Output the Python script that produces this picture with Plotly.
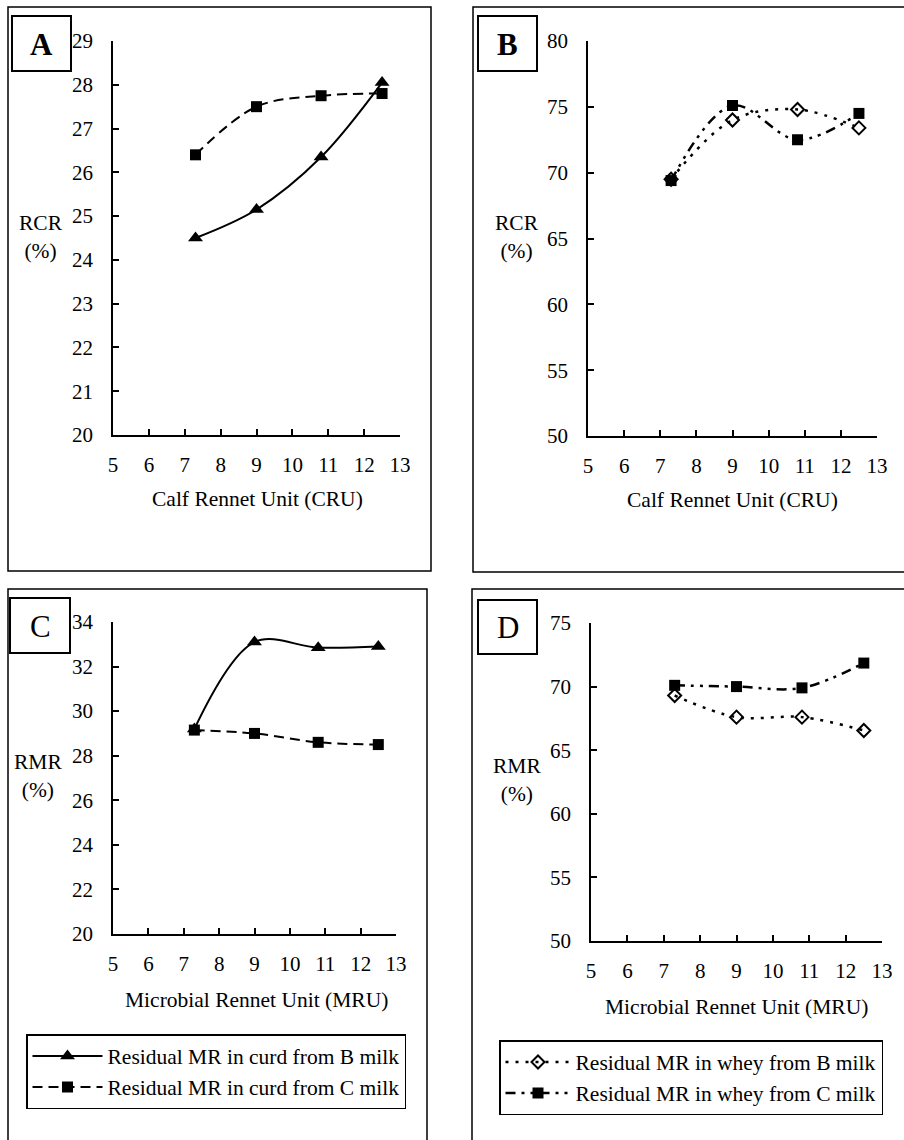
import plotly.graph_objects as go

W, H = 904, 1140

# ---- data ----
rennet_units = [7.3, 9.0, 10.8, 12.5]
rcr_curd_B = [24.5, 25.15, 26.35, 28.05]
rcr_curd_C = [26.4, 27.5, 27.75, 27.8]
rcr_whey_B = [69.5, 74.0, 74.8, 73.4]
rcr_whey_C = [69.4, 75.1, 72.5, 74.5]
rmr_curd_B = [29.2, 33.1, 32.85, 32.9]
rmr_curd_C = [29.15, 29.0, 28.6, 28.5]
rmr_whey_B = [69.3, 67.6, 67.6, 66.55]
rmr_whey_C = [70.1, 70.0, 69.9, 71.85]
x_ticks = [5, 6, 7, 8, 9, 10, 11, 12, 13]

name_curd_B = "Residual MR in curd from B milk"
name_curd_C = "Residual MR in curd from C milk"
name_whey_B = "Residual MR in whey from B milk"
name_whey_C = "Residual MR in whey from C milk"

FONT = "Liberation Serif, Times New Roman, serif"
FS = 21.5
TFS = 21

def px(x):
    return x / W

def py(y):
    return 1 - y / H

fig = go.Figure()

solid = dict(color="black", width=2, shape="spline", smoothing=1.0)
dashed = dict(color="black", width=2, shape="spline", smoothing=1.0, dash="10px,6px")
dotted = dict(color="black", width=2.5, shape="spline", smoothing=1.0, dash="3px,7px")
dashdot = dict(color="black", width=2.5, shape="spline", smoothing=1.0, dash="10px,6px,3px,6px,3px,6px")

tri = dict(symbol="triangle-up", size=13, color="black")
sq = dict(symbol="square", size=11, color="black")
dia = dict(symbol="diamond-open", size=10, color="black", line=dict(width=2, color="black"))

# Panel A
fig.add_trace(go.Scatter(x=rennet_units, y=rcr_curd_B, mode="lines+markers", line=solid, marker=tri,
                         xaxis="x", yaxis="y", showlegend=False, name=name_curd_B))
fig.add_trace(go.Scatter(x=rennet_units, y=rcr_curd_C, mode="lines+markers", line=dashed, marker=sq,
                         xaxis="x", yaxis="y", showlegend=False, name=name_curd_C))
# Panel B
fig.add_trace(go.Scatter(x=rennet_units, y=rcr_whey_B, mode="lines+markers", line=dotted, marker=dia,
                         xaxis="x2", yaxis="y2", showlegend=False, name=name_whey_B))
fig.add_trace(go.Scatter(x=rennet_units, y=rcr_whey_C, mode="lines+markers", line=dashdot, marker=sq,
                         xaxis="x2", yaxis="y2", showlegend=False, name=name_whey_C))
# Panel C
fig.add_trace(go.Scatter(x=rennet_units, y=rmr_curd_B, mode="lines+markers", line=solid, marker=tri,
                         xaxis="x3", yaxis="y3", legend="legend", name=name_curd_B))
fig.add_trace(go.Scatter(x=rennet_units, y=rmr_curd_C, mode="lines+markers", line=dashed, marker=sq,
                         xaxis="x3", yaxis="y3", legend="legend", name=name_curd_C))
# Panel D
fig.add_trace(go.Scatter(x=rennet_units, y=rmr_whey_B, mode="lines+markers", line=dotted, marker=dia,
                         xaxis="x4", yaxis="y4", legend="legend2", name=name_whey_B))
fig.add_trace(go.Scatter(x=rennet_units, y=rmr_whey_C, mode="lines+markers", line=dashdot, marker=sq,
                         xaxis="x4", yaxis="y4", legend="legend2", name=name_whey_C))

def xaxis_cfg(x0, x1, anchor):
    return dict(domain=[px(x0), px(x1)], range=[5, 13], tickvals=x_ticks, ticks="inside", ticklen=6,
                tickwidth=1.5, tickcolor="black", showline=True, linecolor="black", linewidth=1.5,
                showgrid=False, zeroline=False, anchor=anchor, ticklabelstandoff=10,
                tickfont=dict(family=FONT, size=TFS, color="black"), fixedrange=True)

def yaxis_cfg(y_top, y_bot, rng, dtick, anchor):
    return dict(domain=[py(y_bot), py(y_top)], range=rng, dtick=dtick, ticks="inside", ticklen=6,
                tickwidth=1.5, tickcolor="black", showline=True, linecolor="black", linewidth=1.5,
                showgrid=False, zeroline=False, anchor=anchor, ticklabelstandoff=14,
                tickfont=dict(family=FONT, size=TFS, color="black"), fixedrange=True)

legend_common = dict(font=dict(family=FONT, size=FS, color="black"), bgcolor="white",
                     bordercolor="black", borderwidth=1.5, xanchor="left", yanchor="top",
                     tracegroupgap=0, itemclick=False, itemdoubleclick=False)

fig.update_layout(
    width=W, height=H, margin=dict(l=0, r=0, t=0, b=0, pad=0, autoexpand=False),
    paper_bgcolor="white", plot_bgcolor="white",
    font=dict(family=FONT, size=FS, color="black"),
    xaxis=xaxis_cfg(113, 400, "y"),
    yaxis=yaxis_cfg(41, 435, [20, 29], 1, "x"),
    xaxis2=xaxis_cfg(588, 877, "y2"),
    yaxis2=yaxis_cfg(41, 436, [50, 80], 5, "x2"),
    xaxis3=xaxis_cfg(113, 396, "y3"),
    yaxis3=yaxis_cfg(622, 934, [20, 34], 2, "x3"),
    xaxis4=xaxis_cfg(591, 882, "y4"),
    yaxis4=yaxis_cfg(623, 941, [50, 75], 5, "x4"),
    legend=dict(x=px(26), y=py(1034), itemwidth=70, **legend_common),
    legend2=dict(x=px(499), y=py(1040), itemwidth=65, **legend_common),
    showlegend=True,
    hovermode=False,
)

shapes = []
# panel frames
for (x0, y0, x1, y1) in [(8, 7, 431, 571), (473, 7, 910, 572), (8, 589, 427, 1150), (472, 589, 910, 1150)]:
    shapes.append(dict(type="rect", xref="paper", yref="paper", x0=px(x0), x1=px(x1), y0=py(y0), y1=py(y1),
                       line=dict(color="black", width=1.5), layer="below"))
# letter boxes
boxes = [(12, 16, 71, 71), (478, 16, 537, 71), (10, 598, 70, 653), (478, 600, 537, 654)]
for (x0, y0, x1, y1) in boxes:
    shapes.append(dict(type="rect", xref="paper", yref="paper", x0=px(x0), x1=px(x1), y0=py(y0), y1=py(y1),
                       line=dict(color="black", width=2)))
fig.update_layout(shapes=shapes)

ann = []
letters = [("<b>A</b>", 41.5, 44), ("<b>B</b>", 507.5, 44), ("C", 40, 626), ("D", 507.5, 627)]
for t, x, y in letters:
    ann.append(dict(text=t, x=px(x), y=py(y), xref="paper", yref="paper", showarrow=False,
                    font=dict(family=FONT, size=31, color="black"), xanchor="center", yanchor="middle"))
ytitles = [("RCR<br>(%)", 41, 237), ("RCR<br>(%)", 517, 237), ("RMR<br>(%)", 38, 776), ("RMR<br>(%)", 517, 780)]
for t, x, y in ytitles:
    ann.append(dict(text=t, x=px(x), y=py(y), xref="paper", yref="paper", showarrow=False,
                    font=dict(family=FONT, size=FS, color="black"), xanchor="center", yanchor="middle"))
xtitles = [("Calf Rennet Unit (CRU)", 257, 499), ("Calf Rennet Unit (CRU)", 732, 500),
           ("Microbial Rennet Unit (MRU)", 256, 1000), ("Microbial Rennet Unit (MRU)", 736, 1007)]
for t, x, y in xtitles:
    ann.append(dict(text=t, x=px(x), y=py(y), xref="paper", yref="paper", showarrow=False,
                    font=dict(family=FONT, size=FS, color="black"), xanchor="center", yanchor="middle"))
fig.update_layout(annotations=ann)

fig.write_html("out.html", config={"displayModeBar": False},
               post_script="document.documentElement.style.margin='0';document.documentElement.style.overflow='hidden';"
                           "document.body.style.margin='0';document.body.style.overflow='hidden';")
